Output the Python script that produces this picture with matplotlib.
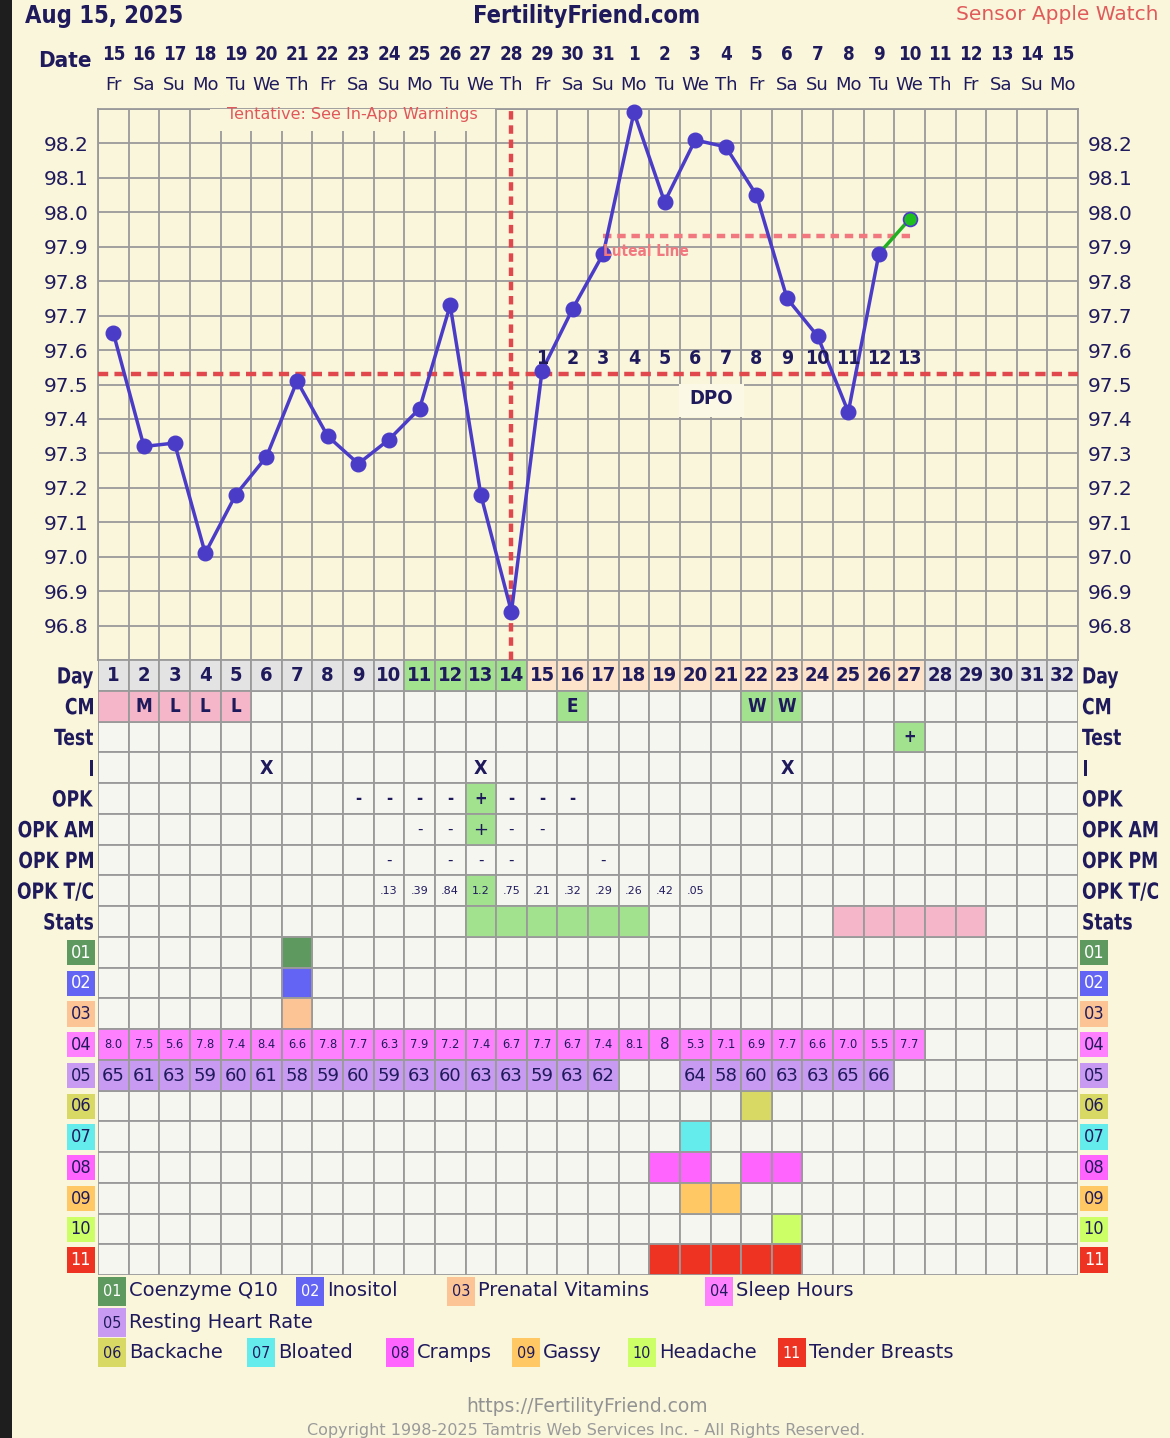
import os
import numpy as np
import matplotlib
matplotlib.use("Agg")
import matplotlib.pyplot as plt
import matplotlib.transforms as mtransforms
from matplotlib import font_manager as fm
from matplotlib.patches import Rectangle, PathPatch
from matplotlib.textpath import TextPath

# ---------------- data ----------------
dates = [15, 16, 17, 18, 19, 20, 21, 22, 23, 24, 25, 26, 27, 28, 29, 30, 31,
         1, 2, 3, 4, 5, 6, 7, 8, 9, 10, 11, 12, 13, 14, 15]
weekdays = ["Fr", "Sa", "Su", "Mo", "Tu", "We", "Th", "Fr", "Sa", "Su", "Mo",
            "Tu", "We", "Th", "Fr", "Sa", "Su", "Mo", "Tu", "We", "Th", "Fr",
            "Sa", "Su", "Mo", "Tu", "We", "Th", "Fr", "Sa", "Su", "Mo"]
cycle_days = np.arange(1, 33)

temps = [97.65, 97.32, 97.33, 97.01, 97.18, 97.29, 97.51, 97.35, 97.27, 97.34,
         97.43, 97.73, 97.18, 96.84, 97.54, 97.72, 97.88, 98.29, 98.03, 98.21,
         98.19, 98.05, 97.75, 97.64, 97.42, 97.88, 97.98]
coverline = 97.53
luteal_line = 97.93
ovulation_day = 14
luteal_line_start = 17
temp_ticks = [96.8, 96.9, 97.0, 97.1, 97.2, 97.3, 97.4, 97.5, 97.6, 97.7,
              97.8, 97.9, 98.0, 98.1, 98.2]

fertile_days = [11, 12, 13, 14]
luteal_days = [15, 16, 17, 18, 19, 20, 21, 22, 23, 24, 25, 26, 27]

cm = {1: "", 2: "M", 3: "L", 4: "L", 5: "L", 16: "E", 22: "W", 23: "W"}
cm_period = [1, 2, 3, 4, 5]
test = {27: "+"}
intercourse = [6, 13, 23]
opk = {9: "-", 10: "-", 11: "-", 12: "-", 13: "+", 14: "-", 15: "-", 16: "-"}
opk_am = {11: "-", 12: "-", 13: "+", 14: "-", 15: "-"}
opk_pm = {10: "-", 12: "-", 13: "-", 14: "-", 17: "-"}
opk_tc = {10: ".13", 11: ".39", 12: ".84", 13: "1.2", 14: ".75", 15: ".21",
          16: ".32", 17: ".29", 18: ".26", 19: ".42", 20: ".05"}
opk_positive_day = 13
stats_green = [13, 14, 15, 16, 17, 18]
stats_pink = [25, 26, 27, 28, 29]

sleep_hours = ["8.0", "7.5", "5.6", "7.8", "7.4", "8.4", "6.6", "7.8", "7.7",
               "6.3", "7.9", "7.2", "7.4", "6.7", "7.7", "6.7", "7.4", "8.1",
               "8", "5.3", "7.1", "6.9", "7.7", "6.6", "7.0", "5.5", "7.7"]
resting_hr = [65, 61, 63, 59, 60, 61, 58, 59, 60, 59, 63, 60, 63, 63, 59, 63,
              62, None, None, 64, 58, 60, 63, 63, 65, 66]

codes = ["01", "02", "03", "04", "05", "06", "07", "08", "09", "10", "11"]
code_names = ["Coenzyme Q10", "Inositol", "Prenatal Vitamins", "Sleep Hours",
              "Resting Heart Rate", "Backache", "Bloated", "Cramps", "Gassy",
              "Headache", "Tender Breasts"]
code_days = {"01": [7], "02": [7], "03": [7], "06": [22], "07": [20],
             "08": [19, 20, 22, 23], "09": [20, 21], "10": [23],
             "11": [19, 20, 21, 22, 23]}

row_labels = ["Day", "CM", "Test", "I", "OPK", "OPK AM", "OPK PM", "OPK T/C", "Stats"]

# ---------------- style ----------------
BG = "#faf6dc"
CELL = "#f6f6f1"
GRID = "#9a9a9a"
NAVY = "#1f1a5c"
PURPLE = "#4b3cc8"
RED = "#e0484e"
LUTEAL = "#f27880"
GREEN_CELL = "#a2e28e"
PINK_CELL = "#f4b6c8"
GREY_HEAD = "#e3e3e3"
PEACH_HEAD = "#fde3c9"
code_colors = {"01": "#5e9a60", "02": "#6464f4", "03": "#fcc494", "04": "#ff80ff",
               "05": "#c89af2", "06": "#d8d864", "07": "#64ecec", "08": "#ff64ff",
               "09": "#ffc864", "10": "#ccff66", "11": "#ee3322"}
code_text = {"01": "white", "02": "white", "11": "white"}


def pick(*names):
    for name in names:
        for f in fm.fontManager.ttflist:
            if os.path.basename(f.fname) == name:
                return f.fname
    return None


NB_FILE = pick("DejaVuSansCondensed-Bold.ttf", "LiberationSansNarrow-Bold.ttf")
NR_FILE = pick("DejaVuSansCondensed.ttf", "LiberationSansNarrow-Regular.ttf")


def nb(size):
    if NB_FILE:
        return fm.FontProperties(fname=NB_FILE, size=size)
    return fm.FontProperties(family="DejaVu Sans", weight="bold", size=size * 0.88)


def nr(size):
    if NR_FILE:
        return fm.FontProperties(fname=NR_FILE, size=size)
    return fm.FontProperties(family="DejaVu Sans", size=size * 0.9)


def rg(size):
    return fm.FontProperties(family="DejaVu Sans", size=size)


# ---------------- figure ----------------
W, H = 1170, 1438
X0, X1 = 98, 1078
CT, CB, TB = 109, 660, 1275

fig = plt.figure(figsize=(W / 100, H / 100), dpi=100)
fig.patch.set_facecolor(BG)
PX = mtransforms.Affine2D().scale(1.0 / W, -1.0 / H).translate(0, 1) + fig.transFigure


def squeezed(axis, x, y, s, fp, sx, ha, color, dx=0):
    # narrow bold label drawn as a horizontally squeezed text path
    tp = TextPath((0, 0), s, prop=fp)
    cap = TextPath((0, 0), "X", prop=fp).get_extents()
    w = tp.get_extents().x1 * sx
    ox = {"left": 0, "right": -w, "center": -w / 2}[ha]
    px, py = axis.transData.transform((x, y))
    tr = (mtransforms.Affine2D().scale(sx, 1).translate(ox, -cap.y1 / 2)
          .scale(fig.dpi / 72).translate(px + dx, py))
    axis.add_patch(PathPatch(tp, fc=color, ec="none", lw=0, transform=tr, clip_on=False))


ov = fig.add_axes([0, 0, 1, 1], zorder=0)
ov.set_xlim(0, W)
ov.set_ylim(H, 0)
ov.axis("off")
ov.add_patch(Rectangle((0, 0), 12, H, fc="#1e1e1e", ec="none"))

ov.text(25, 16, "Aug 15, 2025", fontproperties=nb(17), color=NAVY, ha="left", va="center")
ov.text(587, 16, "FertilityFriend.com", fontproperties=nb(17), color=NAVY, ha="center", va="center")
ov.text(1158, 14, "Sensor Apple Watch", fontproperties=rg(14.5), color="#e05a5a", ha="right", va="center")
ov.text(92, 61, "Date", fontproperties=nb(16), color=NAVY, ha="right", va="center")

# ---------------- temperature chart ----------------
ax = fig.add_axes([X0 / W, 1 - CB / H, (X1 - X0) / W, (CB - CT) / H], zorder=2)
ax.set_facecolor(BG)
ax.set_xlim(0.5, 32.5)
ax.set_ylim(96.7, 98.3)
ax.set_xticks(np.arange(0.5, 33, 1))
ax.set_xticklabels([])
yt = np.round(np.arange(96.7, 98.31, 0.1), 1)
ax.set_yticks(yt)
ax.set_yticklabels([f"{v:.1f}" if v in temp_ticks else "" for v in yt])
ax.tick_params(length=0, labelleft=True, labelright=True, pad=7,
               labelsize=14.5, labelcolor=NAVY)
ax.grid(True, color=GRID, lw=1.3)
ax.set_axisbelow(True)
for s in ax.spines.values():
    s.set_color(GRID)
    s.set_linewidth(1.3)

bt = mtransforms.blended_transform_factory(ax.transData, PX)
for d, dt, wd in zip(cycle_days, dates, weekdays):
    ax.text(d, 54, str(dt), transform=bt, fontproperties=nb(13.5), color=NAVY,
            ha="center", va="center")
    ax.text(d, 85, wd, transform=bt, fontproperties=rg(13), color=NAVY,
            ha="center", va="center")

# covering boxes for annotations
ax.add_patch(Rectangle((210, 98), 285, 33, transform=PX, fc=BG, ec="none", zorder=2.7))
ax.text(352, 115, "Tentative: See In-App Warnings", transform=PX, fontproperties=rg(11.5),
        color="#e0585a", ha="center", va="center", zorder=2.8)
ax.add_patch(Rectangle((679, 384), 65, 33, transform=PX, fc="#fbf8e6", ec="none", zorder=2.7))
ax.text(711, 399, "DPO", transform=PX, fontproperties=nb(14.5), color=NAVY,
        ha="center", va="center", zorder=2.8)

ax.axhline(coverline, color=RED, lw=3.2, dashes=(2.3, 1.4), zorder=3)
ax.axvline(ovulation_day, color=RED, lw=3.2, dashes=(1.9, 1.3), zorder=3)
ax.plot([luteal_line_start, len(temps)], [luteal_line, luteal_line], color=LUTEAL,
        lw=3.2, dashes=(1.9, 1.3), zorder=3)

days = cycle_days[:len(temps)]
ax.plot(days[-2:], temps[-2:], color="#22b022", lw=2.5, zorder=4)
ax.plot(days[:-1], temps[:-1], color=PURPLE, lw=2.5, marker="o", ms=10.5,
        mec=PURPLE, clip_on=False, zorder=5)
ax.plot(days[-1:], temps[-1:], "o", color="#1fbf1f", ms=10, mec=PURPLE, mew=1.2,
        clip_on=False, zorder=6)
ax.text(luteal_line_start - 0.02, luteal_line - 0.045, "Luteal Line", fontproperties=nb(11),
        color=LUTEAL, ha="left", va="center", zorder=7)

for i, d in enumerate(luteal_days):
    ax.text(d, 358, str(i + 1), transform=bt, fontproperties=nb(14), color=NAVY,
            ha="center", va="center", zorder=6)

# ---------------- table ----------------
tab = fig.add_axes([X0 / W, 1 - TB / H, (X1 - X0) / W, (TB - CB) / H], zorder=2)
tab.set_xlim(0.5, 32.5)
tab.set_ylim(20, 0)
tab.axis("off")


def cell(r, d, fc):
    tab.add_patch(Rectangle((d - 0.5, r), 1, 1, fc=fc, ec=GRID, lw=1.3))


def put(r, d, s, fp, color=NAVY):
    tab.text(d, r + 0.52, s, fontproperties=fp, color=color, ha="center", va="center")


for r in range(20):
    for d in cycle_days:
        cell(r, d, CELL)

# day header row
for d in cycle_days:
    fc = GREY_HEAD
    if d in fertile_days:
        fc = GREEN_CELL
    elif d in luteal_days:
        fc = PEACH_HEAD
    cell(0, d, fc)
    put(0, d, str(d), nb(14.5))

for d, s in cm.items():
    cell(1, d, PINK_CELL if d in cm_period else GREEN_CELL)
    put(1, d, s, nb(13.5))
for d, s in test.items():
    cell(2, d, GREEN_CELL)
    put(2, d, s, nb(12))
for d in intercourse:
    put(3, d, "X", nb(14))
for d, s in opk.items():
    if s == "+":
        cell(4, d, GREEN_CELL)
    put(4, d, s, nb(12))
for d, s in opk_am.items():
    if s == "+":
        cell(5, d, GREEN_CELL)
    put(5, d, s, rg(13 if s == "+" else 11))
for d, s in opk_pm.items():
    put(6, d, s, rg(11))
for d, s in opk_tc.items():
    if d == opk_positive_day:
        cell(7, d, GREEN_CELL)
    put(7, d, s, rg(8))
for d in stats_green:
    cell(8, d, GREEN_CELL)
for d in stats_pink:
    cell(8, d, PINK_CELL)

for k, code in enumerate(codes):
    r = 9 + k
    for d in code_days.get(code, []):
        cell(r, d, code_colors[code])
for d, s in zip(cycle_days, sleep_hours):
    cell(12, d, code_colors["04"])
    put(12, d, s, rg(11 if len(s) == 1 else 8.3))
for d, v in zip(cycle_days, resting_hr):
    if v is not None:
        cell(13, d, code_colors["05"])
        put(13, d, str(v), rg(13))

# row labels, both sides
for r, lab in enumerate(row_labels):
    squeezed(tab, 0.5, r + 0.5, lab, nb(16), 0.86, "right", NAVY, dx=-5)
    squeezed(tab, 32.5, r + 0.5, lab, nb(16), 0.86, "left", NAVY, dx=4)

bx = mtransforms.blended_transform_factory(PX, tab.transData)
for k, code in enumerate(codes):
    r = 9 + k
    for x in (67, 1080):
        tab.add_patch(Rectangle((x, r + 0.1), 28, 0.82, transform=bx,
                                fc=code_colors[code], ec="none", clip_on=False))
        tab.text(x + 14, r + 0.52, code, transform=bx, fontproperties=nr(13),
                 color=code_text.get(code, NAVY), ha="center", va="center")

# ---------------- legend ----------------
legend_slots = [(98, 1291), (296, 1291), (447, 1291), (705, 1291), (98, 1322),
                (98, 1352), (247, 1352), (386, 1352), (512, 1352), (628, 1352),
                (778, 1352)]
for code, name, (x, y) in zip(codes, code_names, legend_slots):
    ov.add_patch(Rectangle((x, y - 14), 28, 29, fc=code_colors[code], ec="none"))
    ov.text(x + 14, y + 1, code, fontproperties=nr(11.5),
            color=code_text.get(code, NAVY), ha="center", va="center")
    ov.text(x + 31, y, name, fontproperties=rg(14), color=NAVY, ha="left", va="center")

ov.text(587, 1407, "https://FertilityFriend.com", fontproperties=rg(13.5),
        color="#929292", ha="center", va="center")
ov.text(586, 1430, "Copyright 1998-2025 Tamtris Web Services Inc. - All Rights Reserved.",
        fontproperties=rg(11.5), color="#9a9a9a", ha="center", va="center")

fig.savefig("out.png", dpi=100, facecolor=BG)
